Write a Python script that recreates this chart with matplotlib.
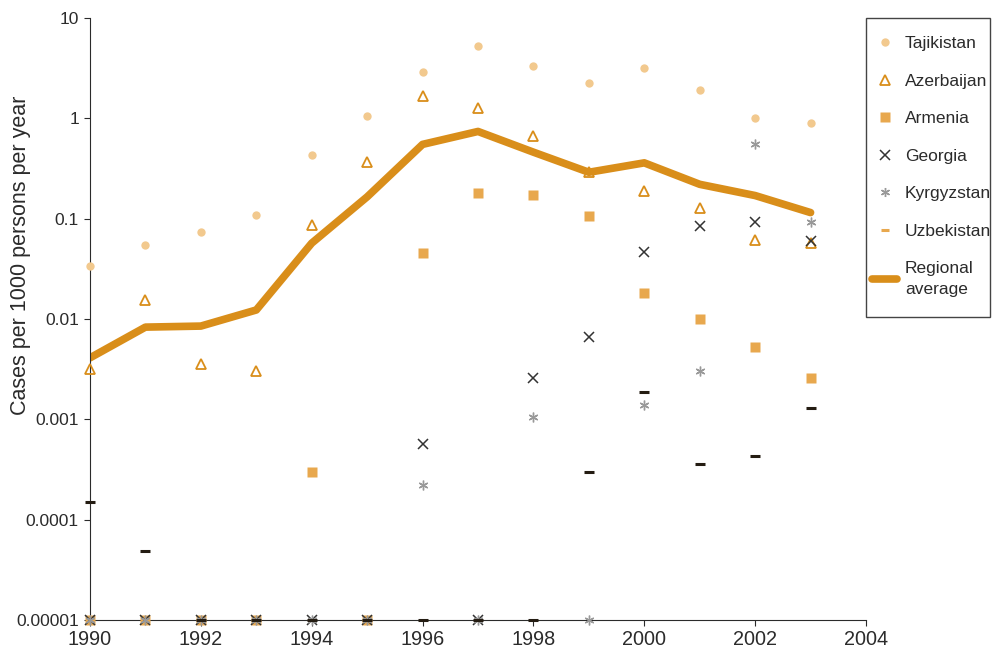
import numpy as np
import matplotlib
matplotlib.use('Agg')
from matplotlib import pyplot as plt
from matplotlib.lines import Line2D
from matplotlib.patches import Rectangle

plt.rcParams['font.family'] = ['Liberation Sans', 'DejaVu Sans']

years = list(range(1990, 2004))
z = 0.00001  # zero values are shown on the axis floor

tajikistan = [0.034, 0.055, 0.074, 0.11, 0.43, 1.05, 2.9, 5.2, 3.3, 2.25, 3.2, 1.9, 1.0, 0.89]
azerbaijan = [0.0032, 0.0155, 0.0036, 0.003, 0.087, 0.37, 1.67, 1.27, 0.66, 0.29, 0.19, 0.128, 0.061, 0.057]
armenia = [z, z, z, z, 0.0003, z, 0.046, 0.18, 0.173, 0.106, 0.018, 0.01, 0.0052, 0.0026]
georgia = [z, z, z, z, z, z, 0.00057, z, 0.0026, 0.0066, 0.047, 0.085, 0.093, 0.06]
kyrgyzstan = [z, z, z, z, z, z, 0.00022, z, 0.00106, z, 0.0014, 0.003, 0.55, 0.093]
uzbekistan = [0.00015, 0.000049, z, z, z, z, z, z, z, 0.0003, 0.00187, 0.00036, 0.00043, 0.0013]
regional = [0.0041, 0.0083, 0.0085, 0.0123, 0.057, 0.165, 0.55, 0.74, 0.46, 0.29, 0.36, 0.22, 0.17, 0.115]

ytick_vals = [0.00001, 0.0001, 0.001, 0.01, 0.1, 1, 10]
ytick_labels = ['0.00001', '0.0001', '0.001', '0.01', '0.1', '1', '10']

c_light = '#F2C98E'
c_dark = '#D98E1A'
c_arm = '#E8A84E'
c_text = '#2b2b2b'

fig = plt.figure(figsize=(9.92, 6.53), dpi=100)
ax = fig.add_axes([90/992, 33/653, 776/992, 602/653])

ax.plot(years, regional, color=c_dark, lw=5.5, solid_capstyle='round', zorder=2)
ax.plot(years, tajikistan, 'o', color=c_light, ms=6, mec='none', clip_on=False, zorder=3)
ax.plot(years, azerbaijan, '^', mfc='none', mec=c_dark, mew=1.3, ms=7, clip_on=False, zorder=3)
ax.plot(years, armenia, 's', color=c_arm, ms=7, mec='none', clip_on=False, zorder=3)
ax.plot(years, georgia, 'x', color='#333333', ms=7, mew=1.1, clip_on=False, zorder=4)
ax.plot(years, kyrgyzstan, ls='none', marker=(6, 2, 0), color='#999999', ms=7, mew=1.0,
        clip_on=False, zorder=4)
ax.plot(years, uzbekistan, '_', color='#241c12', ms=7, mew=2.2, clip_on=False, zorder=5)

ax.set_yscale('log')
ax.set_ylim(0.00001, 10)
ax.set_xlim(1990, 2004)
ax.set_yticks(ytick_vals)
ax.set_yticklabels(ytick_labels)
ax.yaxis.set_minor_locator(matplotlib.ticker.NullLocator())
ax.set_xticks(np.arange(1990, 2005, 2))
ax.tick_params(axis='both', color=c_text, labelcolor=c_text, length=4)
ax.tick_params(axis='y', labelsize=12.5, pad=4)
ax.tick_params(axis='x', labelsize=14.3, pad=3)
ax.spines['top'].set_visible(False)
ax.spines['right'].set_visible(False)
for s in ['left', 'bottom']:
    ax.spines[s].set_color(c_text)
ax.set_ylabel('Cases per 1000 persons per year', fontsize=15.5, color=c_text)
ax.yaxis.set_label_coords(-0.076, 0.605)

handles = [
    Line2D([], [], ls='none', marker='o', color=c_light, mec='none', ms=6),
    Line2D([], [], ls='none', marker='^', mfc='none', mec=c_dark, mew=1.3, ms=6.5),
    Line2D([], [], ls='none', marker='s', color=c_arm, mec='none', ms=6.5),
    Line2D([], [], ls='none', marker='x', color='#333333', mew=1.1, ms=6.5),
    Line2D([], [], ls='none', marker=(6, 2, 0), color='#999999', mew=1.0, ms=6.5),
    Line2D([], [], ls='none', marker='_', color=c_arm, mew=2.2, ms=6),
    Line2D([], [], color=c_dark, lw=5.5, solid_capstyle='round'),
]
labels = ['Tajikistan', 'Azerbaijan', 'Armenia', 'Georgia', 'Kyrgyzstan', 'Uzbekistan', 'Regional\naverage']
leg = fig.legend(handles, labels, loc='upper left', bbox_to_anchor=(872/992, 1 - 36/653),
                 fontsize=12.5, frameon=False, borderpad=0, borderaxespad=0,
                 handlelength=1.45, labelspacing=1.29, handletextpad=0.45)
for t in leg.get_texts():
    t.set_color(c_text)
leg.get_texts()[-1].set_linespacing(1.5)

# legend box drawn on its own so its size matches
fig.patches.append(Rectangle((866/992, 1 - 317/653), 124/992, 299/653, transform=fig.transFigure,
                             fill=False, ec='#444444', lw=1.0))

plt.savefig('out.png', dpi=100, facecolor='white')
